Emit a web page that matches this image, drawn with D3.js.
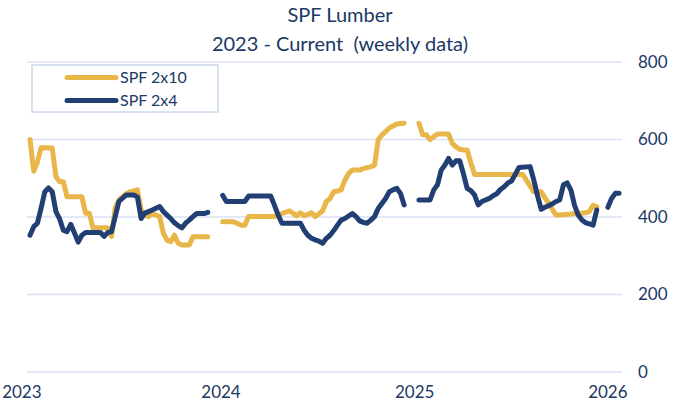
<!DOCTYPE html>
<html>
<head>
<meta charset="utf-8">
<script src="https://cdn.jsdelivr.net/npm/d3@7"></script>
<style>
    html, body { margin: 0; padding: 0; background: #fff; }
    svg { display: block; font-family: Lato, 'Open Sans', sans-serif; }
</style>
</head>
<body>
<svg id="chart" width="681" height="406"></svg>
<script>
// weeks counted from Fri 2023-01-06, null = holiday gap
var weeks2x10 = [0, 1, 2, 3, 6, 7, 8, 9, 10, 14, 15, 16, 17, 21, 22, 23, 24, 26, 27, 29, 30, 31, 32, 33, 35, 36, 37, 38, 39, 40, 41, 43, 44, 48,
    50,
    52, 55, 57, 58, 59, 66, 68, 70, 72, 73, 74, 76, 77, 79, 80, 81, 82, 83, 84, 85, 86, 87, 89, 90, 92, 93, 94, 95, 96, 97, 98, 99, 101,
    103,
    105, 106, 107, 108, 110, 113, 114, 115, 116, 117, 118, 119, 120, 131, 133, 136, 138, 142, 143, 150, 151, 152, 153];
var spf2x10 = [600, 518, 542, 579, 578, 504, 491, 491, 452, 452, 410, 410, 372, 372, 350, 423, 444, 460, 465, 470, 418, 405, 401, 409, 401, 358, 340, 336, 353, 332, 328, 328, 349, 349,
    null,
    388, 388, 379, 379, 401, 401, 409, 416, 403, 411, 403, 411, 401, 416, 440, 448, 465, 467, 470, 495, 512, 521, 521, 525, 530, 534, 599, 612, 620, 630, 635, 640, 642,
    null,
    642, 612, 612, 600, 614, 614, 590, 581, 575, 573, 573, 540, 510, 510, 510, 465, 465, 405, 405, 411, 414, 430, 426, 420];

var weeks2x4 = [0, 1, 2, 3, 4, 5, 6, 7, 8, 9, 10, 11, 12, 13, 14, 15, 19, 20, 21, 22, 23, 24, 26, 28, 29, 30, 31, 32, 33, 35, 36, 37, 38, 39, 40, 41, 42, 43, 44, 45, 47, 48,
    50,
    52, 53, 58, 59, 65, 66, 67, 68, 73, 74, 75, 76, 77, 78, 79, 80, 81, 82, 83, 84, 85, 87, 88, 89, 90, 91, 92, 93, 94, 95, 96, 97, 98, 99, 100, 101,
    103,
    105, 108, 109, 110, 111, 112, 113, 114, 115, 116, 117, 118, 119, 120, 121, 122, 124, 125, 126, 127, 128, 129, 130, 131, 132, 135, 136, 137, 138, 139, 140, 141, 142, 143, 144, 145, 146, 147, 148, 149, 150, 151, 152, 153,
    155,
    156, 157, 158, 159];
var spf2x4 = [353, 375, 384, 423, 465, 475, 465, 414, 395, 366, 362, 381, 359, 335, 353, 360, 360, 350, 360, 362, 401, 440, 457, 457, 452, 396, 410, 414, 418, 427, 414, 405, 396, 385, 378, 372, 384, 392, 401, 409, 409, 412,
    null,
    456, 440, 440, 454, 454, 430, 405, 384, 384, 366, 353, 345, 341, 338, 332, 345, 353, 365, 379, 392, 396, 409, 401, 390, 386, 384, 392, 401, 422, 435, 448, 465, 470, 474, 461, 431,
    null,
    444, 444, 470, 483, 521, 534, 551, 534, 545, 545, 512, 474, 468, 457, 431, 440, 448, 455, 460, 471, 478, 488, 493, 510, 528, 530, 495, 455, 420, 425, 429, 434, 440, 444, 483, 488, 470, 430, 405, 392, 385, 382, 379, 418,
    null,
    425, 448, 461, 461];

var yTicks = [0, 200, 400, 600, 800];
var yearTicks = ['2023', '2024', '2025', '2026'];
var titleLines = ['SPF Lumber', '2023 - Current  (weekly data)'];

var navy = '#203864';
var gold = '#E9B64A';
var blue = '#213F72';
var grid = '#D9E1F2';

var start = new Date(2023, 0, 6);
function weekDate(w) {
    return d3.timeDay.offset(start, w * 7);
}

var svg = d3.select('#chart');

var x = d3.scaleTime()
    .domain([start, weekDate(159)])
    .range([30, 619]);

var y = d3.scaleLinear()
    .domain([0, 800])
    .range([372, 62]);

// title
svg.append('g')
    .selectAll('text')
    .data(titleLines)
    .join('text')
    .attr('x', 340)
    .attr('y', function (d, i) { return 22 + i * 29; })
    .attr('text-anchor', 'middle')
    .attr('fill', navy)
    .attr('font-size', 20)
    .style('white-space', 'pre')
    .text(function (d) { return d; });

// horizontal gridlines
svg.append('g')
    .selectAll('line')
    .data(yTicks)
    .join('line')
    .attr('x1', 27)
    .attr('x2', 622)
    .attr('y1', function (d) { return y(d); })
    .attr('y2', function (d) { return y(d); })
    .attr('stroke', grid)
    .attr('stroke-width', 1.5);

// right value axis
var yAxis = d3.axisRight(y)
    .tickValues(yTicks)
    .tickSize(0)
    .tickPadding(0);

svg.append('g')
    .attr('transform', 'translate(638,0)')
    .call(yAxis)
    .call(function (g) {
        g.select('.domain').remove();
        g.selectAll('text')
            .attr('fill', navy)
            .attr('font-size', 17)
            .attr('font-family', 'Lato, sans-serif');
    });

// bottom year labels
var xAxis = d3.axisBottom(x)
    .tickValues(yearTicks.map(function (d) { return new Date(+d, 0, 1); }))
    .tickFormat(d3.timeFormat('%Y'))
    .tickSize(0)
    .tickPadding(0);

svg.append('g')
    .attr('transform', 'translate(0,386)')
    .call(xAxis)
    .call(function (g) {
        g.select('.domain').remove();
        g.selectAll('text')
            .attr('fill', navy)
            .attr('font-size', 17)
            .attr('font-family', 'Lato, sans-serif')
            .attr('dx', function (d, i) { return i === 0 ? -6 : 0; });
    });

// lines
var line = d3.line()
    .defined(function (d) { return d.v !== null; })
    .x(function (d) { return x(weekDate(d.w)); })
    .y(function (d) { return y(d.v); });

function pairs(ws, vs) {
    return ws.map(function (w, i) { return { w: w, v: vs[i] }; });
}

var series = [
    { name: 'SPF 2x10', color: gold, data: pairs(weeks2x10, spf2x10) },
    { name: 'SPF 2x4', color: blue, data: pairs(weeks2x4, spf2x4) }
];

svg.append('g')
    .selectAll('path')
    .data(series)
    .join('path')
    .attr('d', function (d) { return line(d.data); })
    .attr('fill', 'none')
    .attr('stroke', function (d) { return d.color; })
    .attr('stroke-width', 5)
    .attr('stroke-linejoin', 'round')
    .attr('stroke-linecap', 'round');

// legend
var legend = svg.append('g');

legend.append('rect')
    .attr('x', 32)
    .attr('y', 65)
    .attr('width', 186)
    .attr('height', 47)
    .attr('fill', '#fff')
    .attr('stroke', '#CCD8EE')
    .attr('stroke-width', 1.5);

var item = legend.selectAll('g')
    .data(series)
    .join('g')
    .attr('transform', function (d, i) { return 'translate(0,' + (77.5 + i * 23) + ')'; });

item.append('line')
    .attr('x1', 67)
    .attr('x2', 116)
    .attr('stroke', function (d) { return d.color; })
    .attr('stroke-width', 5)
    .attr('stroke-linecap', 'round');

item.append('text')
    .attr('x', 120)
    .attr('y', 5.5)
    .attr('fill', navy)
    .attr('font-size', 16)
    .text(function (d) { return d.name; });
</script>
</body>
</html>
